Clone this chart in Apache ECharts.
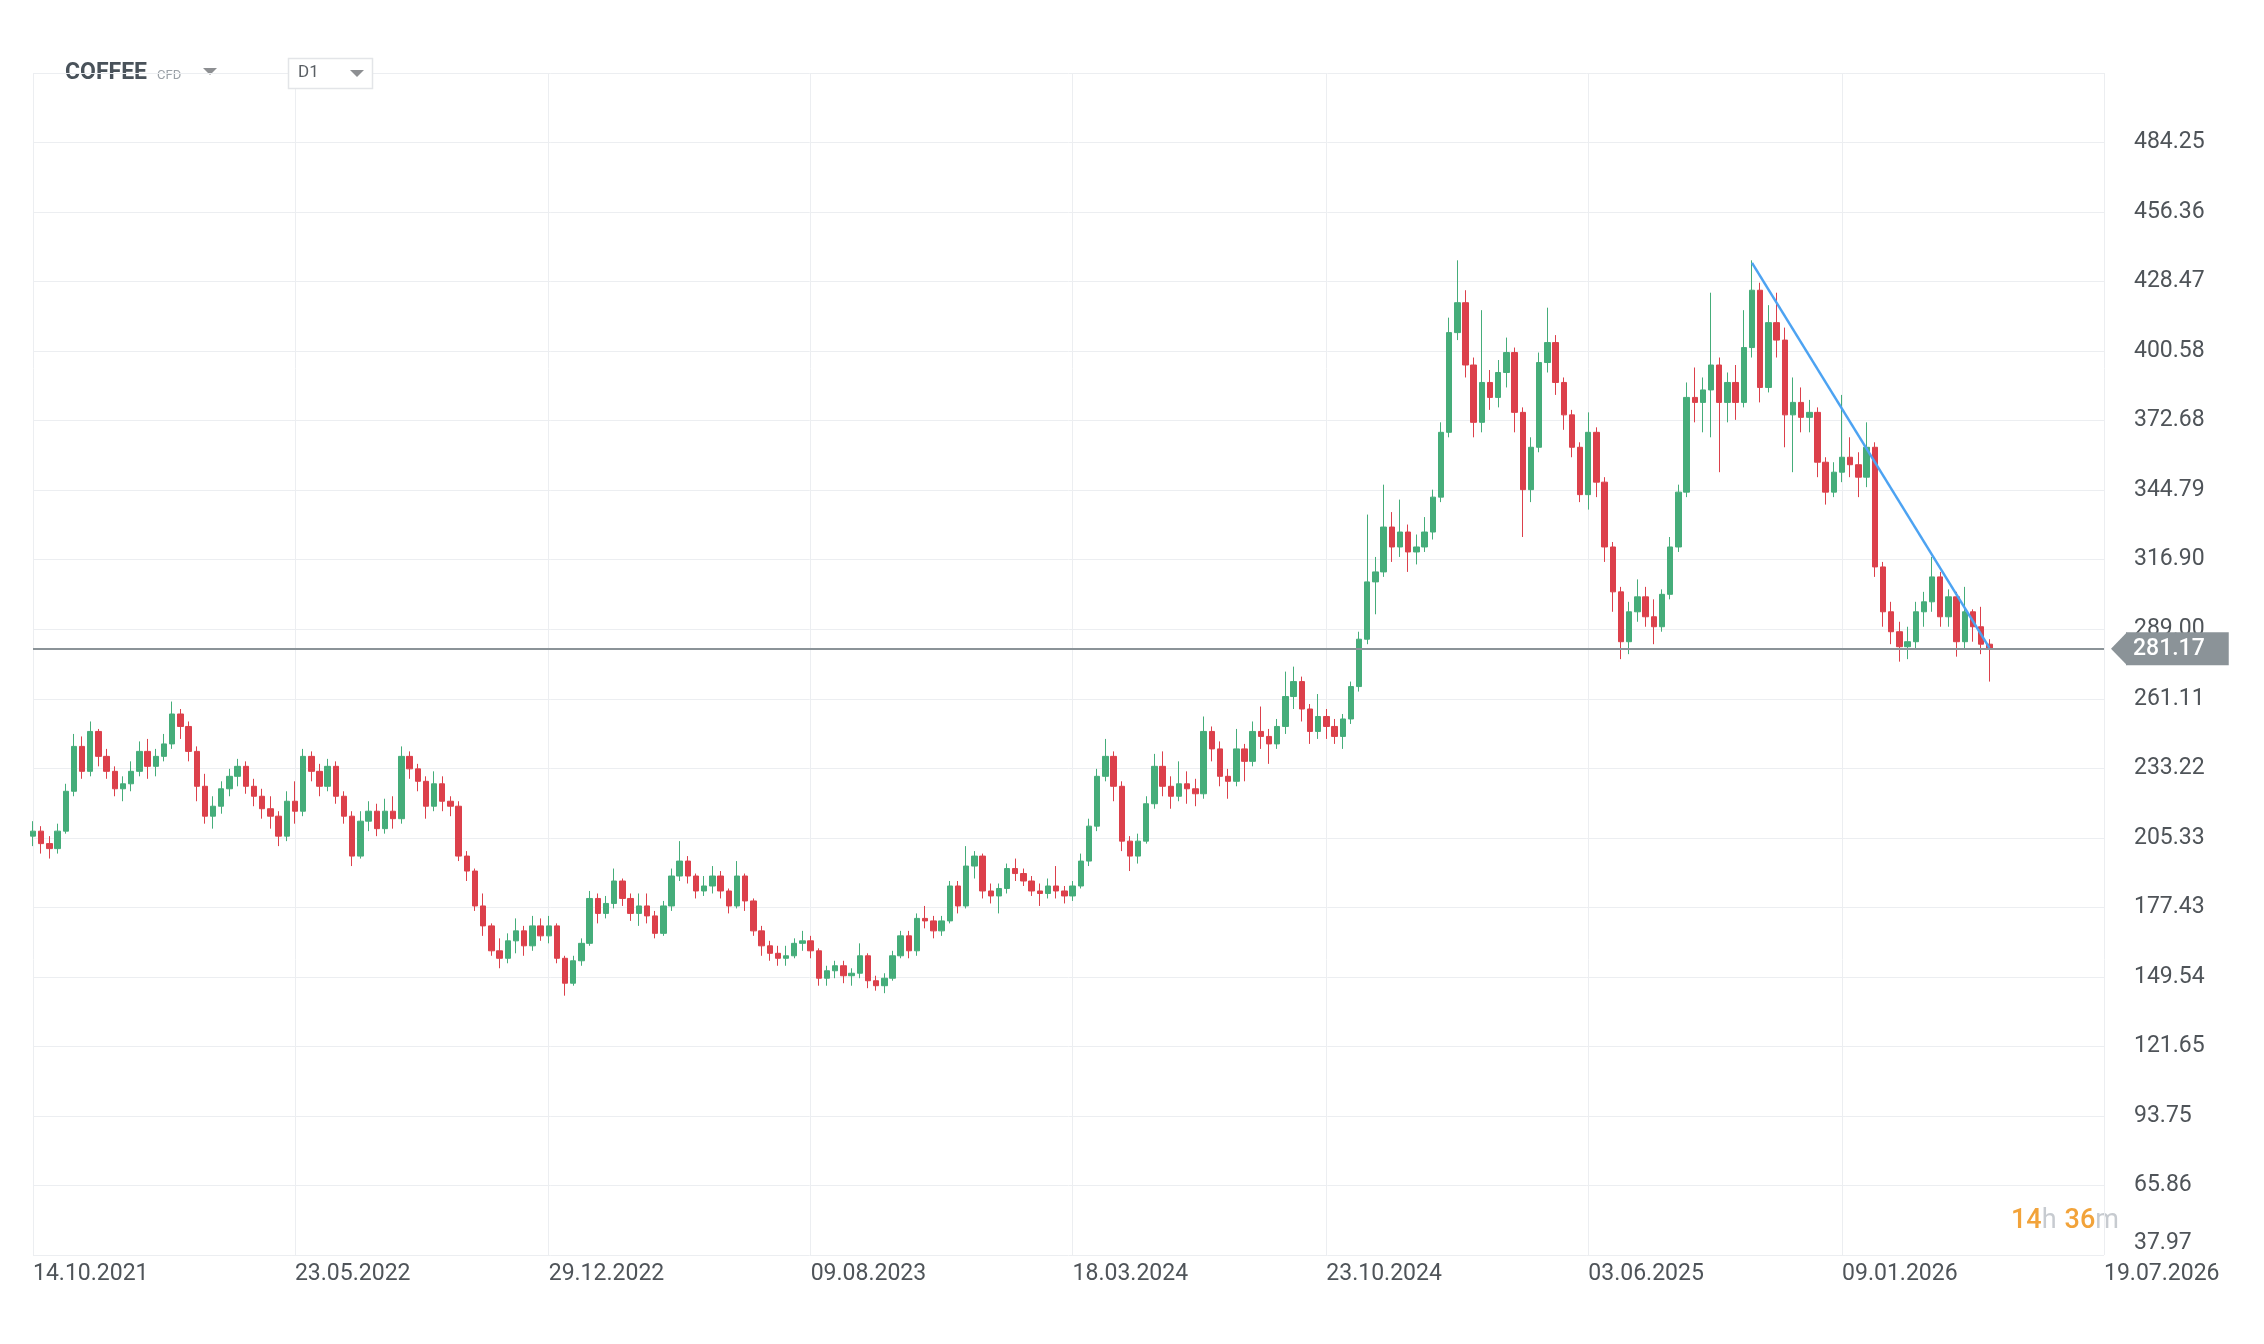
<!DOCTYPE html>
<html>
  <head>
    <meta charset="utf-8">
    <title>COFFEE CFD D1</title>
    <style>
      html, body {
        margin: 0;
        padding: 0;
        width: 100%;
        height: 100%;
        background: #fff;
        font-family: Roboto, sans-serif;
      }
      #chart {
        width: 100vw;
        height: 100vh;
      }
    </style>
  </head>
  <body>
    <div id="chart"></div>
    <script src="https://cdn.jsdelivr.net/npm/echarts@6/dist/echarts.min.js"></script>
    <script type="text/javascript">

      // weekly candles, first week starts 14.10.2021
      const weekOpen = [
        206,208,203,201,208,224,242,232,248,238,232,225,227,232,240,234,238,243,255,250,
        240,226,214,218,225,230,234,226,222,217,214,206,220,216,238,232,226,234,222,214,
        198,212,216,209,216,213,238,233,228,218,227,220,218,198,192,178,170,160,157,164,
        168,162,170,166,170,157,147,156,163,181,175,179,188,181,175,178,174,167,178,190,
        196,190,184,186,190,184,178,190,180,168,162,159,157,158,163,164,160,149,152,154,
        150,151,158,148,146,149,158,166,160,173,172,168,172,186,178,194,198,184,182,185,
        193,191,188,184,183,186,184,182,186,196,210,230,238,226,204,198,204,219,234,226,
        222,227,225,223,248,241,230,228,241,236,248,246,243,250,262,268,257,248,254,250,
        246,253,266,285,308,312,330,322,328,320,322,328,342,368,408,420,395,372,388,382,
        392,400,376,345,362,396,404,388,375,362,343,368,348,322,304,284,296,302,294,290,
        303,322,344,382,380,385,395,380,388,380,402,425,386,412,405,375,380,374,376,356,
        344,352,358,355,350,362,314,296,288,282,284,296,300,310,294,302,284,296,290,283
      ];
      const weekClose = [
        208,203,201,208,224,242,232,248,238,232,225,227,232,240,234,238,243,255,250,240,
        226,214,218,225,230,234,226,222,217,214,206,220,216,238,232,226,234,222,214,198,
        212,216,209,216,213,238,233,228,218,227,220,218,198,192,178,170,160,157,164,168,
        162,170,166,170,157,147,156,163,181,175,179,188,181,175,178,174,167,178,190,196,
        190,184,186,190,184,178,190,180,168,162,159,157,158,163,164,160,149,152,154,150,
        151,158,148,146,149,158,166,160,173,172,168,172,186,178,194,198,184,182,185,193,
        191,188,184,183,186,184,182,186,196,210,230,238,226,204,198,204,219,234,226,222,
        227,225,223,248,241,230,228,241,236,248,246,243,250,262,268,257,248,254,250,246,
        253,266,285,308,312,330,322,328,320,322,328,342,368,408,420,395,372,388,382,392,
        400,376,345,362,396,404,388,375,362,343,368,348,322,304,284,296,302,294,290,303,
        322,344,382,380,385,395,380,388,380,402,425,386,412,405,375,380,374,376,356,344,
        352,358,355,350,362,314,296,288,282,284,296,300,310,294,302,284,296,290,283,281.17
      ];
      const weekLow = [
        202,199,197,199,207,222,229,230,234,229,222,220,224,230,229,230,236,241,245,236,
        220,211,209,215,222,226,223,218,213,209,202,204,211,214,228,222,224,219,211,194,
        197,208,206,207,209,211,229,224,213,216,216,214,196,188,176,166,158,153,155,159,
        158,160,164,163,155,142,146,154,162,171,173,177,178,172,170,171,165,166,176,188,
        187,181,182,183,181,175,177,176,166,158,156,154,154,157,160,157,146,146,149,147,
        146,149,145,144,143,148,157,157,158,169,165,166,171,175,177,189,181,179,175,183,
        188,186,182,178,181,181,179,180,185,194,208,228,220,200,192,195,203,217,222,217,
        220,219,218,221,236,226,221,226,228,234,241,235,241,247,257,252,243,245,245,243,
        241,251,264,283,295,310,316,318,312,315,320,325,340,366,405,390,366,368,377,378,
        386,368,326,340,360,392,383,369,358,340,337,342,316,296,277,279,292,290,283,288,
        301,320,342,372,368,366,352,372,373,378,398,380,384,398,362,352,368,368,350,339,
        342,348,350,342,346,310,290,283,276,277,281,290,296,290,290,278,281,284,279,268
      ];
      const weekHigh = [
        212,210,206,211,227,247,246,252,249,241,234,230,236,244,245,241,247,260,257,252,
        242,231,222,228,233,237,236,229,225,222,216,224,228,241,240,235,237,236,224,216,
        216,220,219,221,222,242,240,235,230,232,230,222,220,200,193,183,171,165,167,173,
        170,174,173,174,171,158,158,165,184,183,182,193,189,183,183,183,176,180,193,204,
        198,191,190,194,192,185,196,191,181,170,164,162,162,165,168,166,161,154,156,156,
        153,163,159,150,151,160,168,168,175,178,174,174,188,188,202,200,199,187,187,195,
        197,193,190,187,189,194,186,188,199,213,233,245,240,228,206,207,222,239,240,230,
        236,232,229,254,250,244,233,249,243,252,258,249,253,272,274,270,259,263,257,253,
        255,268,288,335,318,347,336,341,331,327,334,345,372,414,437,425,398,417,393,397,
        406,402,378,366,400,418,407,390,377,364,376,370,350,324,306,300,309,306,301,305,
        326,347,388,394,390,424,398,392,395,417,437,428,419,424,410,390,386,381,378,358,
        356,383,366,360,372,364,316,300,292,290,300,304,318,312,305,304,306,297,298,285
      ];

      const lastPrice = 281.17;
      const trendLine = [[210, 436], [239, 281.5]];   // [week index, price]
      const futureWeeks = 14;

      const xTickLabels = ['14.10.2021', '23.05.2022', '29.12.2022', '09.08.2023', '18.03.2024',
                           '23.10.2024', '03.06.2025', '09.01.2026', '19.07.2026'];
      const yTickLabels = ['37.97', '65.86', '93.75', '121.65', '149.54', '177.43', '205.33', '233.22',
                           '261.11', '289.00', '316.90', '344.79', '372.68', '400.58', '428.47',
                           '456.36', '484.25'];
      const yMin = 37.97;
      const yStep = 27.8925;
      const yMax = yMin + 17 * yStep;

      const upColor = '#45ad7a';
      const downColor = '#dc404b';
      const gridColor = '#eceef1';
      const labelColor = '#4f5459';
      const tagColor = '#8b9398';

      const pad = n => (n < 10 ? '0' : '') + n;
      const fmtDate = d => pad(d.getDate()) + '.' + pad(d.getMonth() + 1) + '.' + d.getFullYear();
      const parseDate = s => {
        const p = s.split('.');
        return new Date(+p[2], +p[1] - 1, +p[0]);
      };

      const buildCategories = count => {
        const out = [];
        for (let i = 0; i < count; i++) {
          out.push(fmtDate(new Date(2021, 9, 14 + 7 * i)));
        }
        return out;
      };

      const buildTickMap = count => {
        const start = parseDate(xTickLabels[0]);
        const map = {};
        xTickLabels.forEach((label, k) => {
          let idx;
          if (k === xTickLabels.length - 1) {
            idx = count - 1;
          } else {
            idx = Math.round((parseDate(label) - start) / 86400000 / 7);
          }
          map[idx] = label;
        });
        return map;
      };

      const initializeChart = () => {
        const count = weekClose.length + futureWeeks;
        const categories = buildCategories(count);
        const tickMap = buildTickMap(count);
        const isTick = idx => tickMap[idx] !== undefined;

        const candles = weekClose.map((c, i) => [weekOpen[i], c, weekLow[i], weekHigh[i]]);

        const chart = echarts.init(document.getElementById('chart'));

        const option = {
          animation: false,
          backgroundColor: '#ffffff',
          textStyle: { fontFamily: 'Roboto, sans-serif' },
          grid: { left: 33, right: 160, top: 73, bottom: 89 },
          xAxis: {
            type: 'category',
            data: categories,
            boundaryGap: false,
            axisLine: { show: false },
            axisTick: { show: false },
            axisLabel: {
              interval: idx => isTick(idx),
              formatter: (v, idx) => tickMap[idx] || '',
              align: 'left',
              color: labelColor,
              fontSize: 23,
              margin: 8
            },
            splitLine: {
              show: true,
              interval: idx => isTick(idx),
              lineStyle: { color: gridColor, width: 1 }
            }
          },
          yAxis: {
            type: 'value',
            position: 'right',
            min: yMin,
            max: yMax,
            interval: yStep,
            axisLine: { show: false },
            axisTick: { show: false },
            splitLine: { lineStyle: { color: gridColor, width: 1 } },
            axisLabel: {
              formatter: v => {
                const k = Math.round((v - yMin) / yStep);
                return yTickLabels[k] || '';
              },
              showMaxLabel: false,
              verticalAlignMinLabel: 'bottom',
              margin: 30,
              color: labelColor,
              fontSize: 23
            }
          },
          series: [{
            type: 'candlestick',
            data: candles,
            barWidth: '72%',
            itemStyle: {
              color: upColor,
              color0: downColor,
              borderColor: upColor,
              borderColor0: downColor,
              borderWidth: 1
            },
            markLine: {
              silent: true,
              symbol: 'none',
              animation: false,
              data: [
                {
                  yAxis: lastPrice,
                  lineStyle: { color: tagColor, width: 2, type: 'solid' },
                  label: {
                    show: true,
                    position: 'end',
                    distance: 22,
                    formatter: lastPrice.toFixed(2),
                    color: '#ffffff',
                    fontSize: 23,
                    fontWeight: 500,
                    lineHeight: 27,
                    backgroundColor: tagColor,
                    padding: [3, 24, 3, 7]
                  }
                },
                [
                  { coord: trendLine[0], lineStyle: { color: '#4da3f2', width: 2.5, type: 'solid' }, label: { show: false } },
                  { coord: trendLine[1] }
                ]
              ]
            }
          }],
          graphic: [
            { id: 'title', type: 'text', left: 65, top: 62, style: { text: 'COFFEE', fontSize: 23, fontWeight: 'bold', fontFamily: 'Roboto', fill: '#49525a' } },
            { id: 'cfd', type: 'text', left: 157, top: 69, style: { text: 'CFD', fontSize: 13, fontFamily: 'Roboto', fill: '#9ba1a7' } },
            { id: 'titleArrow', type: 'polygon', shape: { points: [[203, 68], [217, 68], [210, 75]] }, style: { fill: '#8d8f92' } },
            { id: 'tfBox', type: 'rect', z: 10, shape: { x: 288.5, y: 58.5, width: 84, height: 30 }, style: { fill: '#ffffff', stroke: '#e3e5e8', lineWidth: 1.5 } },
            { id: 'tfText', type: 'text', z: 11, left: 298, top: 64, style: { text: 'D1', fontSize: 17, fontFamily: 'Roboto', fill: '#5a5f64' } },
            { id: 'tfArrow', type: 'polygon', z: 11, shape: { points: [[350, 70], [364, 70], [357, 77]] }, style: { fill: '#8d8f92' } },
            {
              id: 'timer', type: 'text', left: 2011, top: 1208,
              style: {
                text: '{o|14}{g|h}{s|}{o|36}{g|m}',
                rich: {
                  o: { fontSize: 27, fontWeight: 500, fontFamily: 'Roboto', fill: '#f2a33a' },
                  g: { fontSize: 27, fontFamily: 'Roboto', fill: '#c7cbd0' },
                  s: { width: 8 }
                }
              }
            }
          ]
        };

        chart.setOption(option);

        // arrow tip of the price tag, placed from the price scale
        const tagY = chart.convertToPixel({ yAxisIndex: 0 }, lastPrice);
        const gridRight = chart.getWidth() - 160;
        chart.setOption({
          graphic: [{
            id: 'tagArrow', type: 'polygon', z: 20,
            shape: { points: [[gridRight + 7, tagY], [gridRight + 23, tagY - 16.5], [gridRight + 23, tagY + 16.5]] },
            style: { fill: tagColor }
          }]
        });
      };

      document.addEventListener('DOMContentLoaded', initializeChart);
    </script>
  </body>
</html>
